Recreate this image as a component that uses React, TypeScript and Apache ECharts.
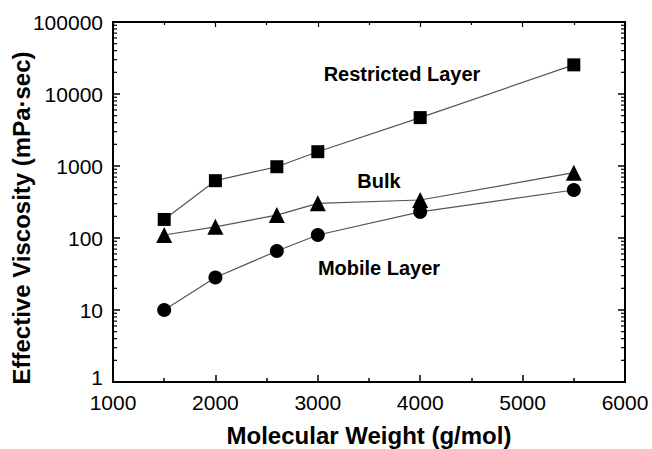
import React, { useEffect, useRef } from "react";
import * as echarts from "echarts";

const weights = [1500, 2000, 2600, 3000, 4000, 5500];
const restricted = [181, 625, 977, 1580, 4700, 25400];
const bulk = [110, 143, 208, 303, 337, 807];
const mobile = [10, 28.3, 66, 110, 231, 464];
const xTickLabels = ["1000", "2000", "3000", "4000", "5000", "6000"];
const yTickLabels = ["1", "10", "100", "1000", "10000", "100000"];
const minorMultipliers = [2, 3, 4, 5, 6, 7, 8, 9];
const decades = [1, 10, 100, 1000, 10000];

const FONT = "'Liberation Sans', Arial, Helvetica, sans-serif";

export default function App() {
  const ref = useRef<HTMLDivElement>(null);
  useEffect(() => {
    const chart = echarts.init(ref.current!, null, { renderer: "svg" });
    const minorVals: number[] = [];
    decades.forEach((d) => minorMultipliers.forEach((m) => minorVals.push(d * m)));
    const pair = (arr: number[]) => weights.map((w, i) => [w, arr[i]]);
    const lineStyle = { color: "#555", width: 1.2 };
    const itemStyle = { color: "#000" };
    chart.setOption({
      animation: false,
      backgroundColor: "#fff",
      grid: { left: 113, right: 27, top: 22, bottom: 67 },
      xAxis: [
        {
          type: "value",
          min: 1000,
          max: 6000,
          interval: 1000,
          axisLine: { show: true, lineStyle: { color: "#000", width: 2 } },
          axisTick: { show: true, inside: true, length: 7, lineStyle: { color: "#000", width: 1.5 } },
          minorTick: { show: true, splitNumber: 2, length: 4, lineStyle: { color: "#000", width: 1.5 } },
          splitLine: { show: false },
          axisLabel: {
            color: "#000",
            fontSize: 21,
            lineHeight: 16,
            fontFamily: FONT,
            margin: 12,
            formatter: (v: number) => xTickLabels[Math.round((v - 1000) / 1000)] ?? "",
          },
        },
        {
          type: "value",
          position: "top",
          min: 1000,
          max: 6000,
          interval: 1000,
          axisLine: { show: true, lineStyle: { color: "#000", width: 2 } },
          axisTick: { show: true, inside: true, length: 5, lineStyle: { color: "#000", width: 1.2 } },
          minorTick: { show: true, splitNumber: 2, length: 3, lineStyle: { color: "#000", width: 1.2 } },
          splitLine: { show: false },
          axisLabel: { show: false },
        },
      ],
      yAxis: [
        {
          type: "log",
          logBase: 10,
          min: 1,
          max: 100000,
          axisLine: { show: true, lineStyle: { color: "#000", width: 2 } },
          axisTick: { show: true, inside: true, length: 7, lineStyle: { color: "#000", width: 1.5 } },
          splitLine: { show: false },
          axisLabel: {
            color: "#000",
            fontSize: 21,
            lineHeight: 14,
            fontFamily: FONT,
            margin: 10,
            formatter: (v: number) => {
              const idx = Math.round(Math.log10(v));
              const t = yTickLabels[idx] ?? "";
              return idx === 0 ? "{low|" + t + "}" : t;
            },
            rich: {
              low: {
                color: "#000",
                fontSize: 21,
                lineHeight: 14,
                fontFamily: FONT,
                padding: [0, 0, 10, 0],
              },
            },
          },
        },
        {
          type: "log",
          logBase: 10,
          min: 1,
          max: 100000,
          position: "right",
          axisLine: { show: true, lineStyle: { color: "#000", width: 2 } },
          axisTick: { show: true, inside: true, length: 7, lineStyle: { color: "#000", width: 1.5 } },
          splitLine: { show: false },
          axisLabel: { show: false },
        },
      ],
      graphic: [
        {
          type: "text",
          x: 21,
          y: 218,
          rotation: Math.PI / 2,
          style: {
            text: "Effective Viscosity (mPa·sec)",
            fontSize: 24,
            fontWeight: "bold",
            fontFamily: FONT,
            fill: "#000",
            textAlign: "center",
            textVerticalAlign: "middle",
          },
        },
        {
          type: "text",
          x: 369,
          y: 435,
          style: {
            text: "Molecular Weight (g/mol)",
            fontSize: 24,
            fontWeight: "bold",
            fontFamily: FONT,
            fill: "#000",
            textAlign: "center",
            textVerticalAlign: "middle",
          },
        },
        {
          type: "text",
          x: 402,
          y: 74,
          style: {
            text: "Restricted Layer",
            fontSize: 20,
            fontWeight: "bold",
            fontFamily: FONT,
            fill: "#000",
            textAlign: "center",
            textVerticalAlign: "middle",
          },
        },
        {
          type: "text",
          x: 379,
          y: 181,
          style: {
            text: "Bulk",
            fontSize: 20,
            fontWeight: "bold",
            fontFamily: FONT,
            fill: "#000",
            textAlign: "center",
            textVerticalAlign: "middle",
          },
        },
        {
          type: "text",
          x: 379,
          y: 268,
          style: {
            text: "Mobile Layer",
            fontSize: 20,
            fontWeight: "bold",
            fontFamily: FONT,
            fill: "#000",
            textAlign: "center",
            textVerticalAlign: "middle",
          },
        },
      ],
      series: [
        {
          name: "Restricted Layer",
          type: "line",
          data: pair(restricted),
          symbol: "rect",
          symbolSize: 13,
          lineStyle,
          itemStyle,
          z: 3,
        },
        {
          name: "Bulk",
          type: "line",
          data: pair(bulk),
          symbol: "triangle",
          symbolSize: 16,
          lineStyle,
          itemStyle,
          z: 3,
        },
        {
          name: "Mobile Layer",
          type: "line",
          data: pair(mobile),
          symbol: "circle",
          symbolSize: 14,
          lineStyle,
          itemStyle,
          z: 3,
        },
        {
          type: "custom",
          silent: true,
          data: minorVals.map((v) => [1000, v]),
          encode: { x: 0, y: 1 },
          renderItem: (params: any, api: any) => {
            const v = api.value(1);
            const p = api.coord([1000, v]);
            const cs = params.coordSys;
            const y = p[1];
            return {
              type: "group",
              children: [
                {
                  type: "line",
                  shape: { x1: cs.x, y1: y, x2: cs.x + 4, y2: y },
                  style: { stroke: "#000", lineWidth: 1.2 },
                },
                {
                  type: "line",
                  shape: { x1: cs.x + cs.width, y1: y, x2: cs.x + cs.width - 4, y2: y },
                  style: { stroke: "#000", lineWidth: 1.2 },
                },
              ],
            };
          },
          z: 2,
        },
      ],
    });
    return () => chart.dispose();
  }, []);
  return (
    <div
      ref={ref}
      style={{ position: "fixed", left: 0, top: 0, width: 652, height: 449, background: "#fff" }}
    />
  );
}
